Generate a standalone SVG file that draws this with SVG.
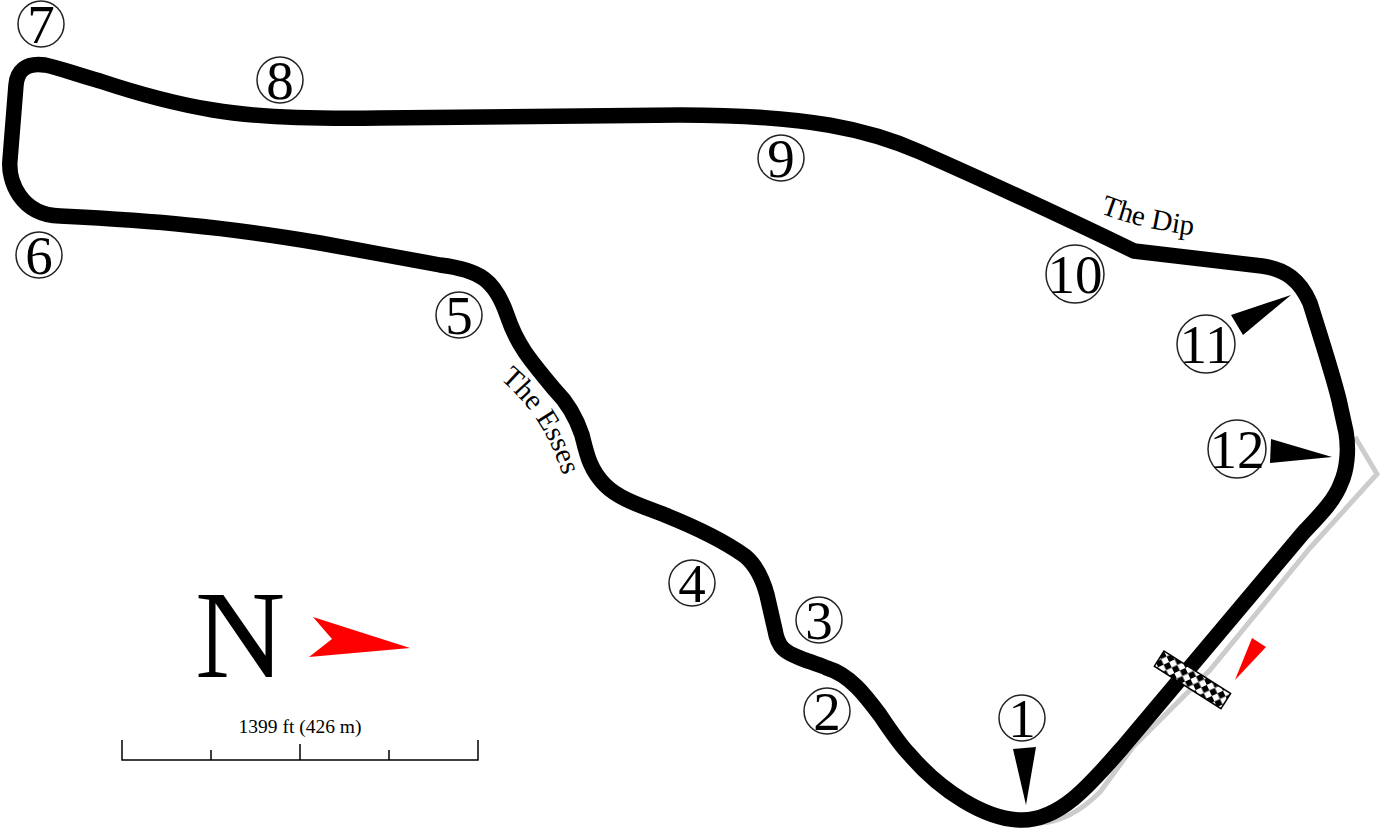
<svg xmlns="http://www.w3.org/2000/svg" width="1380" height="829" viewBox="0 0 1380 829">
<style>
text{font-family:"Liberation Serif","Times New Roman",serif;fill:#000}
.c{fill:#fff;stroke:#222;stroke-width:1.5}
.n{font-size:55px;text-anchor:middle}
.l{font-size:29px}
</style>
<defs>
<pattern id="chk" width="12.2" height="12.2" patternUnits="userSpaceOnUse" patternTransform="translate(1164 651) rotate(32.5)">
<rect width="12.2" height="12.2" fill="#fff"/><rect width="6.1" height="6.1" fill="#000"/><rect x="6.1" y="6.1" width="6.1" height="6.1" fill="#000"/>
</pattern>
<path id="esses" d="M500 379 C523 399 552 430 568 494"/>
<path id="dip" d="M1100 213 C1130 225 1165 232 1205 237"/>
</defs>
<rect width="1380" height="829" fill="#fff"/>
<g id="track">
<path id="pit" d="M1355 437 L1377 474 L1310 548 L1210 670 L1133 747 L1100 792 C1080 812 1060 822 1040 823" fill="none" stroke="#ccc" stroke-width="5"/>
<path id="circuit" fill="none" stroke="#000" stroke-width="15.5" stroke-linejoin="round" d="M1022 820 C1060 820 1090 785 1123 747 L1303 533 C1320 515 1335 500 1341 483 C1347 470 1349 450 1346 432 L1339 400 C1333 375 1320 335 1310 303 C1300 280 1285 269 1262 266 L1134 251 C1060 215 990 183 920 152 C870 130 810 115 680 115 L380 118 C320 119 260 118 213 110 C170 103 130 91 100 81 C75 74 60 68 45 65 C25 62 17 72 16 85 L10 160 C8 180 20 215 60 216 C100 218 150 221 187 225 C240 230 290 238 320 243 C360 250 400 258 440 265 C480 270 495 280 507 315 C517 345 530 360 555 390 C570 405 577 420 582 435 C587 455 590 470 605 485 C620 500 645 507 665 515 C690 525 720 538 745 556 C757 566 763 580 767 595 L775 630 C778 648 785 652 800 658 C812 663 822 665 827 668 C850 675 865 695 880 715 C890 730 900 745 910 755 C940 790 985 820 1022 820 Z"/>
</g>
<g id="start-finish"><rect x="1164" y="651" width="79" height="18" fill="url(#chk)" stroke="#000" stroke-width="1.5" transform="rotate(32.5 1164 651)" /></g>
<g id="corner-1"><circle class="c" cx="1022" cy="718" r="23"/><text class="n" x="1022" y="737">1</text><polygon points="1013,749 1036,747 1026,805"/></g>
<g id="corner-2"><circle class="c" cx="827" cy="711" r="23"/><text class="n" x="827" y="730">2</text></g>
<g id="corner-3"><circle class="c" cx="819" cy="620" r="23"/><text class="n" x="819" y="639">3</text></g>
<g id="corner-4"><circle class="c" cx="692" cy="583" r="23"/><text class="n" x="692" y="602">4</text></g>
<g id="corner-5"><circle class="c" cx="459" cy="315" r="23"/><text class="n" x="459" y="334">5</text></g>
<g id="corner-6"><circle class="c" cx="39" cy="255" r="23"/><text class="n" x="39" y="274">6</text></g>
<g id="corner-7"><circle class="c" cx="41" cy="24" r="23"/><text class="n" x="41" y="43">7</text></g>
<g id="corner-8"><circle class="c" cx="280" cy="80" r="23"/><text class="n" x="280" y="99">8</text></g>
<g id="corner-9"><circle class="c" cx="781" cy="158" r="23"/><text class="n" x="781" y="177">9</text></g>
<g id="corner-10"><circle class="c" cx="1075" cy="274" r="29"/><text class="n" x="1075" y="293">10</text></g>
<g id="corner-11"><circle class="c" cx="1206" cy="344" r="29"/><text class="n" x="1206" y="363">11</text><polygon points="1231,315 1243,335 1291,295"/></g>
<g id="corner-12"><circle class="c" cx="1237" cy="449" r="29"/><text class="n" x="1237" y="468">12</text><polygon points="1271,439 1270,463 1332,457"/></g>
<g id="label-esses"><text class="l"><textPath href="#esses">The Esses</textPath></text></g>
<g id="label-dip"><text class="l"><textPath href="#dip">The Dip</textPath></text></g>
<g id="direction"><polygon points="1252,638 1266,647 1235,680" fill="#f00"/></g>
<g id="north"><text x="195" y="677" font-size="125">N</text><polygon points="313,617 410,648 309,657 332,639" fill="#f00"/></g>
<g id="scale"><path d="M122 740V760H478V740M211 750V760M300 744V760M389 750V760" fill="none" stroke="#000" stroke-width="1.5"/><text x="300" y="733" font-size="19.5" text-anchor="middle">1399 ft (426 m)</text></g>
</svg>
